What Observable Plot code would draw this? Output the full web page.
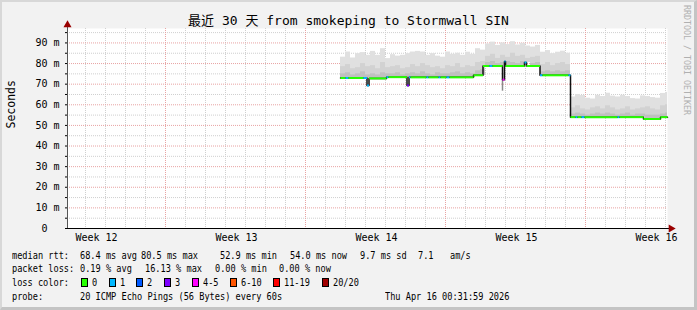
<!DOCTYPE html>
<html><head><meta charset="utf-8">
<script src="https://cdn.jsdelivr.net/npm/d3@7"></script>
<script src="https://cdn.jsdelivr.net/npm/@observablehq/plot@0.6"></script>
<style>
html,body{margin:0;padding:0;background:#f2f2f2;}
#wrap{position:relative;width:697px;height:310px;background:#f2f2f2;overflow:hidden;font-family:"DejaVu Sans Mono","Noto Sans CJK SC",monospace;color:#000;}
#edge{position:absolute;left:0;top:0;width:697px;height:310px;box-sizing:border-box;border-top:2px solid #d8d8d8;border-left:2px solid #d8d8d8;border-right:3px solid #c4c4c4;border-bottom:3px solid #c4c4c4;pointer-events:none;}
#chart{position:absolute;left:0;top:0;}
#title{position:absolute;left:0;width:697px;top:13px;text-align:center;font-size:13px;line-height:16px;white-space:pre;}
.lg{position:absolute;font-size:10.5px;line-height:12px;white-space:pre;transform:scaleX(0.82);transform-origin:0 0;}
.box{position:absolute;width:5px;height:7px;border:1px solid #000;}
#wm{position:absolute;left:682px;top:5px;writing-mode:vertical-rl;font-size:8.3px;line-height:10px;color:#b0b0b0;white-space:pre;}
</style></head>
<body>
<div id="wrap">
  <div id="title"></div>
  <div id="chart"></div>
  <div id="wm"></div>
  <div id="edge"></div>
</div>
<script>
// ---------------- data ----------------
const titleText = "最近 30 天 from smokeping to Stormwall SIN";
const yLabel = "Seconds";
const watermark = "RRDTOOL / TOBI OETIKER";

const weekLabels = ["Week 12", "Week 13", "Week 14", "Week 15", "Week 16"];
const weekLabelDay = [1.45, 8.45, 15.45, 22.45, 29.45];
const weekGridDay = [4.9, 11.9, 18.9, 25.9];
const dayGridDay = [0.9, 1.9, 2.9, 3.9, 4.9, 5.9, 6.9, 7.9, 8.9, 9.9, 10.9, 11.9, 12.9, 13.9, 14.9,
  15.9, 16.9, 17.9, 18.9, 19.9, 20.9, 21.9, 22.9, 23.9, 24.9, 25.9, 26.9, 27.9, 28.9, 29.9];
const yTicks = [0, 10, 20, 30, 40, 50, 60, 70, 80, 90];
const yMinor = [5, 15, 25, 35, 45, 55, 65, 75, 85, 95];
const yMax = 97;
const daysShown = 30;

// median rtt (ms) as steps: start day, value, loss class index
const medianT = [13.65, 13.9, 14.05, 14.8, 14.975, 15.075, 15.95, 16.05, 16.975, 17.075, 17.15,
  17.95, 18.05, 18.55, 18.65, 18.95, 19.1, 20.3, 20.775, 21.1, 21.25, 21.75, 21.85, 21.9,
  22.85, 22.95, 23.625, 23.75, 25.05, 25.15, 25.4, 25.5, 25.7, 25.85, 27.5, 27.6, 28.8, 29.65, 30];
const medianV = [73.0, 73.0, 73.0, 73.0, 69.4, 72.8, 73.4, 73.4, 69.4, 73.3, 73.3,
  73.3, 73.3, 73.3, 73.3, 73.3, 73.3, 74.3, 78.8, 78.8, 78.8, 72.2, 81.0, 78.8,
  80.5, 78.8, 74.3, 74.3, 74.3, 54.0, 54.0, 54.0, 54.0, 54.0, 54.0, 54.0, 53.1, 54.0, 54.0];
const medianLoss = [0, 1, 0, 1, 1, 0, 1, 0, 3, 1, 0,
  1, 0, 1, 0, 1, 0, 0, 0, 1, 0, 4, 1, 0,
  1, 0, 1, 0, 1, 0, 1, 0, 1, 0, 1, 0, 0, 0, 0];

// smoke (ping spread), one value per 6-hour bin from day 13.65
const smokeStart = 13.65, smokeStep = 0.25;
const smokeTop = [83.1, 85.6, 82.7, 84.8, 85.3, 84.0, 85.9, 84.0, 87.2, 82.4, 84.3, 83.6, 84.0, 84.8,
  85.6, 85.9, 85.6, 84.0, 84.8, 83.6, 83.1, 85.6, 84.5, 85.0, 84.0, 85.5, 84.5,
  87.2, 86.5,
  89.5, 90.4, 88.8, 90.0, 89.2, 90.6, 89.0, 89.8, 88.5, 88.0, 88.8,
  85.5, 86.3, 84.8, 85.5, 86.0, 85.0,
  63.8, 65.0, 64.5, 63.2, 62.8, 64.6, 64.0, 65.6, 64.2, 63.8, 64.6, 64.0, 63.0, 62.8, 64.3, 64.0, 63.5, 63.2, 65.5, 66.0];
const smokeMid = [78.5, 79.5, 77.5, 78.0, 80.0, 78.5, 79.0, 77.5, 80.5, 78.0, 78.5, 79.0, 77.5, 78.0,
  79.5, 78.5, 80.0, 79.0, 78.0, 78.5, 77.5, 79.0, 78.5, 80.0, 78.0, 79.0, 78.5,
  80.5, 81.0,
  83.5, 84.5, 82.5, 84.0, 83.0, 85.0, 83.5, 84.0, 82.5, 83.0, 83.5,
  79.5, 80.5, 79.0, 80.0, 80.5, 79.5,
  58.5, 59.5, 58.0, 57.5, 58.5, 59.0, 58.0, 59.5, 58.5, 57.5, 58.0, 59.0, 57.5, 58.0, 58.5, 59.0, 58.0, 57.5, 59.5, 60.0];
const smokeLow = [75.0, 75.5, 74.5, 75.0, 76.0, 74.5, 75.0, 74.5, 75.5, 75.0, 75.0, 75.5, 74.5, 75.0,
  75.5, 75.0, 76.0, 75.0, 74.5, 75.5, 75.0, 75.0, 75.5, 76.0, 75.0, 75.5, 75.0,
  76.5, 77.0,
  80.5, 81.0, 80.0, 80.5, 81.0, 80.5, 80.0, 81.0, 80.5, 80.0, 80.5,
  76.0, 76.5, 76.0, 76.5, 76.0, 76.5,
  55.5, 56.0, 55.5, 55.0, 55.5, 56.0, 55.5, 56.0, 55.5, 55.0, 55.5, 56.0, 55.0, 55.5, 55.5, 55.0, 55.0, 55.0, 55.5, 56.0];
// fastest pings below the median
const lowSpikeT = [21.75], lowSpikeMin = [66.6], lowSpikeMed = [72.2];

const lossColors = ["#26ff00", "#00b8ff", "#0059ff", "#7e00ff", "#ff00ff", "#ff5500", "#ff0000", "#a00000"];
const lossLabels = ["0", "1", "2", "3", "4-5", "6-10", "11-19", "20/20"];

const rttHead = "median rtt:";
const rttStats = ["68.4 ms avg", "80.5 ms max", "52.9 ms min", "54.0 ms now", "9.7 ms sd", "7.1", "am/s"];
const lossHead = "packet loss:";
const lossStats = ["0.19 % avg", "16.13 % max", "0.00 % min", "0.00 % now"];
const colorHead = "loss color:";
const probeHead = "probe:";
const probeText = "20 ICMP Echo Pings (56 Bytes) every 60s";
const dateText = "Thu Apr 16 00:31:59 2026";

// ---------------- build ----------------
function medianAt(t) {
  let v = medianV[0];
  for (let i = 0; i < medianT.length; i++) if (medianT[i] <= t + 1e-6) v = medianV[i];
  return v;
}
const smokeRows = smokeTop.map((top, i) => {
  const t = smokeStart + i * smokeStep;
  return {t, t2: t + smokeStep, base: medianAt(t), top, mid: smokeMid[i], low: smokeLow[i]};
});
const medianRows = medianT.map((t, i) => ({t, v: medianV[i]}));
const segRows = medianT.slice(0, -1).map((t, i) => ({x1: t, x2: medianT[i + 1], y: medianV[i], c: lossColors[medianLoss[i]]}));
const spikeRows = lowSpikeT.map((t, i) => ({t, lo: lowSpikeMin[i], hi: lowSpikeMed[i]}));

const gridMinor = "#cfcfcf", gridMajor = "#e8a3a3";

const chart = Plot.plot({
  width: 697, height: 245,
  marginLeft: 67, marginRight: 30, marginTop: 28, marginBottom: 17,
  x: {domain: [0, daysShown]},
  y: {domain: [0, yMax]},
  color: {type: "identity"},
  style: {background: "transparent", fontFamily: "DejaVu Sans Mono", fontSize: "10px", color: "#000", overflow: "visible"},
  marks: [
    Plot.frame({fill: "#ffffff", stroke: null}),
    Plot.ruleY(yMinor, {stroke: gridMinor, strokeDasharray: "1,1"}),
    Plot.ruleX(dayGridDay, {stroke: gridMinor, strokeDasharray: "1,1"}),
    Plot.ruleY(yTicks.filter(d => d > 0), {stroke: gridMajor, strokeDasharray: "1,1"}),
    Plot.ruleX(weekGridDay, {stroke: gridMajor, strokeDasharray: "1,1"}),
    Plot.rect(smokeRows, {x1: "t", x2: "t2", y1: "base", y2: "top", fill: "#e0e0e0", clip: true}),
    Plot.rect(smokeRows, {x1: "t", x2: "t2", y1: "base", y2: "mid", fill: "#d2d2d2", clip: true}),
    Plot.rect(smokeRows, {x1: "t", x2: "t2", y1: "base", y2: "low", fill: "#c0c0c0", clip: true}),
    Plot.ruleX(spikeRows, {x: "t", y1: "lo", y2: "hi", stroke: "#8a8a8a", strokeWidth: 1.5}),
    Plot.line(medianRows, {x: "t", y: "v", curve: "step-after", stroke: "#111", strokeWidth: 1.5}),
    Plot.link(segRows, {x1: "x1", x2: "x2", y1: "y", y2: "y", stroke: "c", strokeWidth: 2}),
    Plot.ruleX([0], {stroke: "#555", insetTop: -3}),
    Plot.ruleY([0], {stroke: "#000", insetRight: -2}),
    Plot.dot([yMax], {x: 0, y: d => d, symbol: "triangle", r: 3, fill: "#9a0000", stroke: null, dy: -3.5}),
    Plot.dot([0], {x: daysShown, y: d => d, symbol: "triangle", r: 3, rotate: 90, fill: "#9a0000", stroke: null, dx: 3.5}),
    Plot.axisY({ticks: yTicks, tickFormat: d => d === 0 ? "0\u00a0\u00a0" : d + " m", tickSize: 2, tickPadding: 6, fontSize: 10}),
    Plot.axisY({ticks: yMinor, tickFormat: () => "", tickSize: 2}),
    Plot.axisX({ticks: weekLabelDay, tickFormat: (d, i) => weekLabels[i], tickSize: 0, tickPadding: 5, fontSize: 10}),
    Plot.text([yLabel], {frameAnchor: "left", dx: -56, rotate: -90, fontSize: 11.5})
  ]
});
document.getElementById("chart").appendChild(chart);
document.getElementById("title").textContent = titleText;
document.getElementById("wm").textContent = watermark;

// ---------------- legend layout ----------------
const wrap = document.getElementById("wrap");
function put(text, left, top) {
  const s = document.createElement("div");
  s.className = "lg"; s.textContent = text;
  s.style.left = left + "px"; s.style.top = top + "px";
  wrap.appendChild(s); return s;
}
const rowTop = [248.5, 262.1, 276.1, 289.8];
const headX = 11.5;
put(rttHead, headX, rowTop[0]);
[79.5, 141, 219.5, 289.5, 359.5, 417.5, 449.5].forEach((x, i) => put(rttStats[i], x, rowTop[0]));
put(lossHead, headX, rowTop[1]);
[79.5, 145, 214.5, 278.8].forEach((x, i) => put(lossStats[i], x, rowTop[1]));
put(colorHead, headX, rowTop[2]);
const boxX = [81, 108.7, 136, 163.7, 192, 230, 273.3, 322];
const labX = [92.2, 120.2, 147.2, 175.2, 202.8, 240.5, 283.8, 332.8];
lossColors.forEach((c, i) => {
  const b = document.createElement("div");
  b.className = "box"; b.style.background = c;
  b.style.left = boxX[i] + "px"; b.style.top = "277.5px";
  wrap.appendChild(b);
  put(lossLabels[i], labX[i], rowTop[2]);
});
put(probeHead, headX, rowTop[3]);
put(probeText, 80.2, rowTop[3]);
put(dateText, 385, rowTop[3]);
</script>
</body></html>
